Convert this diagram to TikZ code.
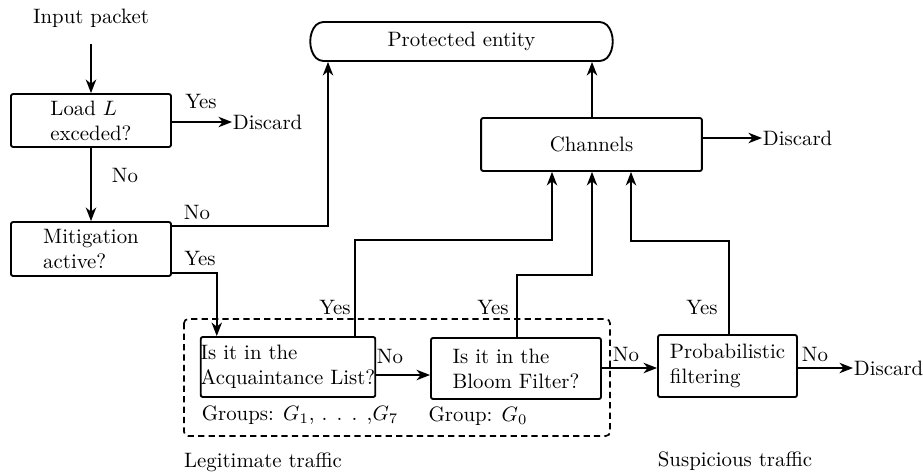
\documentclass[tikz,border=0pt]{standalone}
\usetikzlibrary{arrows.meta,calc,shapes.misc}
\begin{document}
\begin{tikzpicture}[x=0.48pt,y=-0.48pt,
  line width=0.9pt,
  arr/.style={-{Stealth[length=6.5pt,width=5pt,inset=2pt]}},
  box/.style={draw,rounded corners=1pt,align=left,inner sep=0pt},
  lbl/.style={inner sep=0pt},
  groupbox/.style={draw,dashed,dash pattern=on 3pt off 2pt,rounded corners=2pt,line width=0.8pt}]
\useasboundingbox (0,0) rectangle (923,474);
% boxes
\node[box,minimum width=76.8pt,minimum height=25.4pt] (load) at (91,120.5) {Load $L$\\exceded?};
\node[box,minimum width=76.8pt,minimum height=25.9pt] (mit) at (91,249) {Mitigation\\active?};
\node[draw,rounded rectangle,rounded rectangle arc length=90,rounded corners=2pt,minimum width=144.5pt,minimum height=18.7pt,inner sep=0pt] (prot) at (461.5,41.5) {Protected entity};
\node[box,minimum width=106pt,minimum height=25.4pt] (ch) at (591.5,144.5) {Channels};
\node[box,minimum width=81.6pt,minimum height=28.8pt] (al) at (288,367) {Is it in the\\Acquaintance List?};
\node[box,minimum width=81.6pt,minimum height=29.3pt] (bloom) at (516,368.5) {Is it in the\\Bloom Filter?};
\node[box,minimum width=66.7pt,minimum height=29.8pt] (pf) at (727.5,366) {Probabilistic\\filtering};
\draw[groupbox] (184,319) rectangle (610,436);
% texts
\node[lbl] (input) at (91,18) {Input packet};
\node[lbl,anchor=west] (d1) at (232,122) {Discard};
\node[lbl,anchor=west] (d2) at (762,138) {Discard};
\node[lbl,anchor=west] (d3) at (853,368) {Discard};
\node[lbl] (yes1) at (201,101) {Yes};
\node[lbl] (no1) at (125,175) {No};
\node[lbl] (no2) at (197,212) {No};
\node[lbl] (yes2) at (200,258) {Yes};
\node[lbl] (yes3) at (335,307) {Yes};
\node[lbl] (yes4) at (493,307) {Yes};
\node[lbl] (yes5) at (702,307) {Yes};
\node[lbl] (no3) at (390,356) {No};
\node[lbl] (no4) at (626,354) {No};
\node[lbl] (no5) at (815,354) {No};
\node[lbl] (grp1) at (300,415) {Groups: $G_1$, . . . ,$G_7$};
\node[lbl] (grp0) at (478,416) {Group: $G_0$};
\node[lbl] (legit) at (263,462) {Legitimate traffic};
\node[lbl] (susp) at (735,461) {Suspicious traffic};
% connectors
\draw[arr] ($(input.south)+(0,16)$) -- (load.north);
\draw[arr] ($(load.east)+(0,1.5)$) -- (d1.west);
\draw[arr] (load.south) -- (mit.north);
\draw[arr] ($(mit.north east)+(0,5)$) -| ($(prot.south)+(-133.5,0)$);
\draw[arr] ($(mit.south east)+(0,-4)$) -| ($(al.north west)+(17,0)$);
\draw[arr] ($(al.east)+(0,8)$) -- ($(bloom.west)+(0,6.5)$);
\draw[arr] ($(bloom.east)+(0,-0.5)$) -- ($(pf.west)+(0,2)$);
\draw[arr] ($(pf.east)+(0,2)$) -- (d3.west);
\draw[arr] ($(ch.east)+(0,-6.5)$) -- (d2.west);
\draw[arr] ($(ch.north)+(0.5,0)$) -- ($(ch.north |- prot.south)+(0.5,0)$);
\draw[arr] ($(al.north west)+(155,0)$) -- ++(0,-96) -| ($(ch.south)+(-39.5,0)$);
\draw[arr] ($(bloom.north west)+(87,0)$) -- ++(0,-62) -| ($(ch.south)+(0.5,0)$);
\draw[arr] ($(pf.north)+(1.5,0)$) -- ++(0,-93) -| ($(ch.south)+(39.5,0)$);
\end{tikzpicture}
\end{document}
